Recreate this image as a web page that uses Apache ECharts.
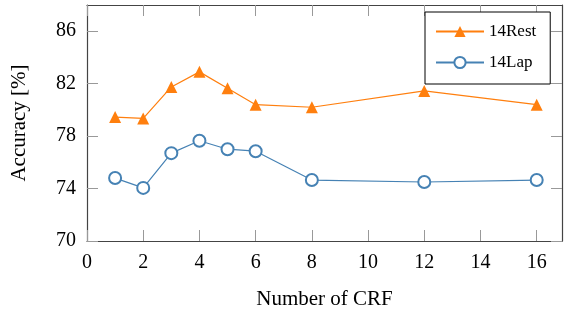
<!DOCTYPE html>
<html>
<head>
  <meta charset="utf-8">
  <title>Accuracy vs Number of CRF</title>
  <script src="https://cdn.jsdelivr.net/npm/echarts@6/dist/echarts.min.js"></script>
</head>
<body style="margin:0;background:#fff;">
<div id="chart1" style="width:564px;height:311px;"></div>
<script type="text/javascript">
  // 數據
  let crfCounts = [1, 2, 3, 4, 5, 6, 8, 12, 16];
  let rest14 = [79.45, 79.35, 81.75, 82.9, 81.65, 80.4, 80.2, 81.45, 80.4];
  let lap14 = [74.8, 74.05, 76.7, 77.65, 77.0, 76.85, 74.65, 74.5, 74.65];
  let xTicks = [0, 2, 4, 6, 8, 10, 12, 14, 16];
  let yTicks = [70, 74, 78, 82, 86];

  let font = 'Liberation Serif';
  let tickStyle = { show: true, inside: true, length: 11, lineStyle: { color: '#999', width: 1 } };
  let frameLine = { show: true, onZero: false, lineStyle: { color: '#444', width: 1.2 } };

  let myChart1 = echarts.init(document.getElementById('chart1'));

  myChart1.setOption({
    animation: false,
    textStyle: { fontFamily: font },
    grid: { left: 87, top: 5, right: 2, bottom: 70, outerBoundsMode: 'none', containLabel: false },
    legend: {
      left: 425,
      top: 12,
      orient: 'vertical',
      backgroundColor: '#fff',
      borderColor: '#000',
      borderWidth: 1,
      padding: [11, 14, 13, 10],
      itemWidth: 48,
      itemHeight: 14,
      itemGap: 14,
      textStyle: { fontFamily: font, fontSize: 17, color: '#000' },
      data: ['14Rest', '14Lap']
    },
    xAxis: [{
      type: 'value',
      min: 0,
      max: 16.9,
      name: 'Number of CRF',
      nameLocation: 'middle',
      nameGap: 48,
      nameTextStyle: { fontFamily: font, fontSize: 21, color: '#000' },
      axisLine: frameLine,
      axisTick: Object.assign({ customValues: xTicks }, tickStyle),
      axisLabel: { customValues: xTicks, margin: 12, fontFamily: font, fontSize: 20, color: '#000' },
      splitLine: { show: false }
    }, {
      type: 'value',
      position: 'top',
      min: 0,
      max: 16.9,
      axisLine: frameLine,
      axisTick: Object.assign({ customValues: xTicks }, tickStyle),
      axisLabel: { show: false },
      splitLine: { show: false }
    }],
    yAxis: [{
      type: 'value',
      min: 70,
      max: 88,
      name: 'Accuracy [%]',
      nameLocation: 'middle',
      nameGap: 57,
      nameTextStyle: { fontFamily: font, fontSize: 21, color: '#000' },
      axisLine: frameLine,
      axisTick: Object.assign({ customValues: yTicks }, tickStyle),
      axisLabel: { customValues: yTicks, margin: 11, fontFamily: font, fontSize: 20, color: '#000' },
      splitLine: { show: false }
    }, {
      type: 'value',
      position: 'right',
      min: 70,
      max: 88,
      axisLine: frameLine,
      axisTick: Object.assign({ customValues: yTicks }, tickStyle),
      axisLabel: { show: false },
      splitLine: { show: false }
    }],
    series: [
      {
        name: '14Rest',
        type: 'line',
        data: crfCounts.map((x, i) => [x, rest14[i]]),
        symbol: 'triangle',
        symbolSize: 12,
        color: '#ff7f0e',
        lineStyle: { width: 1.2, color: '#ff7f0e' },
        itemStyle: { color: '#ff7f0e' }
      },
      {
        name: '14Lap',
        type: 'line',
        data: crfCounts.map((x, i) => [x, lap14[i]]),
        symbol: 'emptyCircle',
        symbolSize: 12,
        showAllSymbol: true,
        color: '#4682b4',
        lineStyle: { width: 1.2, color: '#4682b4' },
        itemStyle: { color: '#4682b4', borderColor: '#4682b4', borderWidth: 1.1 }
      }
    ]
  });
</script>
</body>
</html>
